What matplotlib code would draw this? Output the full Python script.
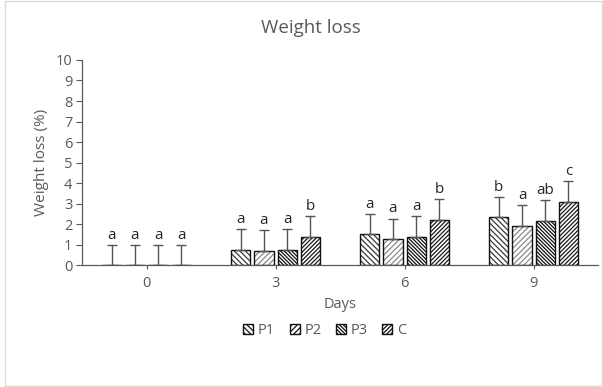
import numpy as np
import matplotlib
matplotlib.use("Agg")
import matplotlib.pyplot as plt
import matplotlib.patches as mpatches

plt.rcParams['font.family'] = ['Open Sans', 'DejaVu Sans']
plt.rcParams['hatch.linewidth'] = 0.9

# data
days = ['0', '3', '6', '9']
series = ['P1', 'P2', 'P3', 'C']
p1 = [0.0, 0.75, 1.50, 2.34]
p2 = [0.0, 0.70, 1.27, 1.93]
p3 = [0.0, 0.75, 1.37, 2.16]
c = [0.0, 1.37, 2.20, 3.10]
err = [1.0, 1.0, 1.0, 1.0]
letters_p1 = ['a', 'a', 'a', 'b']
letters_p2 = ['a', 'a', 'a', 'a']
letters_p3 = ['a', 'a', 'a', 'ab']
letters_c = ['a', 'b', 'b', 'c']

values = [p1, p2, p3, c]
letters = [letters_p1, letters_p2, letters_p3, letters_c]
hatches = ['\\' * 6, '/' * 6, '\\' * 9, '/' * 8]
hatch_cols = ['#3a3a3a', '#8a8a8a', '#111111', '#1a1a1a']

grey = '#595959'

fig = plt.figure(figsize=(6.03, 3.87), dpi=100)
fig.patches.append(mpatches.Rectangle((0.008, 0.003), 0.99, 0.994, transform=fig.transFigure,
                                      fill=False, edgecolor='#d9d9d9', linewidth=1.0))
ax = fig.add_axes([0.136, 0.315, 0.856, 0.53])

x = np.arange(len(days))
width = 0.15
step = 0.18
offsets = (np.arange(4) - 1.5) * step

handles = []
for i in range(4):
    xs = x + offsets[i]
    # hatch takes the edge colour, so draw the hatch first and the outline on top
    ax.bar(xs, values[i], width, facecolor='white', edgecolor=hatch_cols[i],
           hatch=hatches[i], linewidth=0, zorder=2)
    ax.bar(xs, values[i], width, facecolor='none', edgecolor='#111111',
           linewidth=1.0, zorder=2.5)
    ax.errorbar(xs, values[i], yerr=[np.zeros(4), err], fmt='none',
                ecolor='#555555', elinewidth=1.0, capsize=3.5, capthick=1.0, zorder=3)
    for j in range(4):
        ax.text(xs[j], values[i][j] + err[j] + 0.1, letters[i][j], ha='center', va='bottom',
                fontsize=11, color='#262626', zorder=4)
    handles.append(mpatches.Patch(facecolor='white', edgecolor=hatch_cols[i], hatch=hatches[i],
                                  linewidth=1.0, label=series[i]))

ax.set_xlim(-0.5, 3.5)
ax.set_ylim(0, 10)
ax.set_yticks(range(0, 11))
ax.set_xticks(x)
ax.set_xticklabels(days)
ax.tick_params(axis='y', colors=grey, labelsize=10.5, length=4, width=0.8, pad=3)
ax.tick_params(axis='x', colors=grey, labelsize=10.5, length=3, width=0.8, pad=5)
for s in ['top', 'right']:
    ax.spines[s].set_visible(False)
ax.spines['left'].set_color('#595959')
ax.spines['bottom'].set_color('#595959')
ax.spines['left'].set_linewidth(0.9)
ax.spines['bottom'].set_linewidth(0.9)

ax.set_xlabel('Days', fontsize=10.5, color=grey, labelpad=4)
ax.set_ylabel('Weight loss (%)', fontsize=11, color=grey, labelpad=5)
fig.text(0.515, 0.928, 'Weight loss', ha='center', va='center', fontsize=13.5, color=grey)

leg = ax.legend(handles=handles, loc='upper center', bbox_to_anchor=(0.47, -0.22), ncol=4,
                frameon=False, fontsize=10.5, handlelength=0.7, handleheight=0.7,
                handletextpad=0.3, columnspacing=1.0)
for t in leg.get_texts():
    t.set_color(grey)
for h in leg.legend_handles:
    h.set_edgecolor('#111111')

fig.savefig('out.png', dpi=100)
